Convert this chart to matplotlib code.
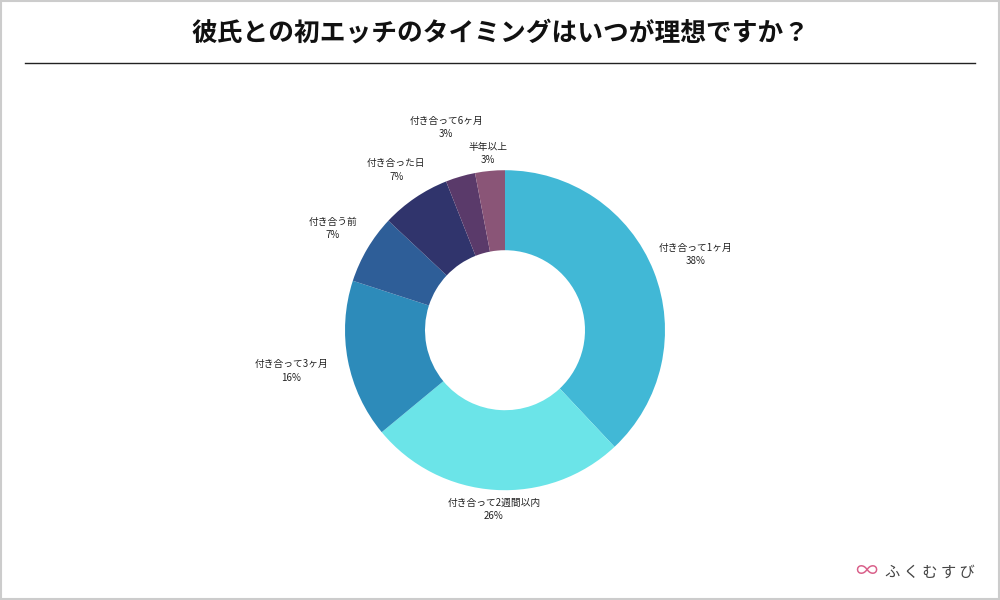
import matplotlib
matplotlib.use("Agg")
import matplotlib.pyplot as plt
from matplotlib.patches import Rectangle
import numpy as np

plt.rcParams["font.family"] = "Noto Sans CJK JP"

categories = ["付き合って1ヶ月", "付き合って2週間以内", "付き合って3ヶ月", "付き合う前",
              "付き合った日", "付き合って6ヶ月", "半年以上"]
values = [38, 26, 16, 7, 7, 3, 3]
colors = ["#41B8D6", "#6BE4E8", "#2D8BBA", "#2E5E98", "#30346C", "#5A3A6A", "#8A5577"]
label_dist = [1.28, 1.12, 1.36, 1.25, 1.21, 1.32, 1.11]
title = "彼氏との初エッチのタイミングはいつが理想ですか？"

fig = plt.figure(figsize=(10, 6), dpi=100)
fig.patches.append(Rectangle((0.001, 0.002), 0.998, 0.996, transform=fig.transFigure,
                             fill=False, edgecolor="#cccccc", linewidth=1.5))
fig.text(0.5, 0.945, title, ha="center", va="center", fontsize=18.5, fontweight="bold", color="#111111")
fig.add_artist(plt.Line2D([0.025, 0.975], [0.895, 0.895], color="#222222", linewidth=1))

ax = fig.add_axes([0.345, 0.183, 0.32, 0.5333])
wedges, _ = ax.pie(values, colors=colors, startangle=90, counterclock=False,
                   wedgeprops=dict(width=0.5, linewidth=0))
total = sum(values)
cum = 0
for c, v, d in zip(categories, values, label_dist):
    mid = 90 - 360 * (cum + v / 2) / total
    cum += v
    a = np.deg2rad(mid)
    ax.text(d * np.cos(a), d * np.sin(a), f"{c}\n{v}%", ha="center", va="center",
            fontsize=7, color="#222222", multialignment="center", linespacing=1.4)
ax.set_xlim(-1, 1)
ax.set_ylim(-1, 1)
ax.set_aspect("equal")

fig.text(0.975, 0.047, "ふ く む す び", ha="right", va="center", fontsize=11, color="#444444")
fig.text(0.866, 0.047, "∞", ha="center", va="center", fontsize=16, color="#d9608a")

fig.savefig("out.png", dpi=100)
